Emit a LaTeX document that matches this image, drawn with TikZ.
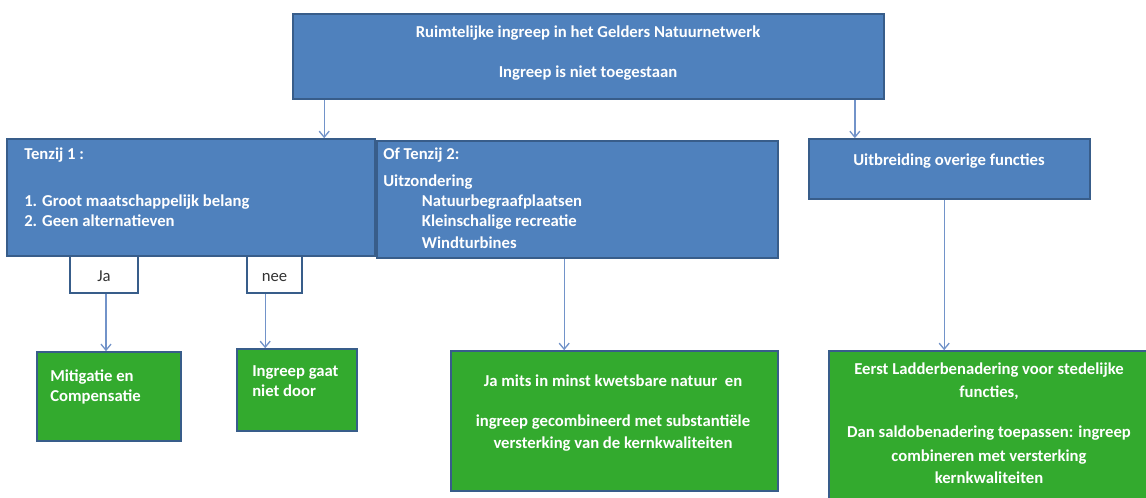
\documentclass[tikz,border=0pt]{standalone}
\usepackage{fontspec}
\setmainfont{Carlito}
\usetikzlibrary{fit}
\usetikzlibrary{arrows.meta}
\definecolor{custom-blue}{RGB}{79, 129, 189}
\definecolor{custom-edge}{RGB}{56, 93, 138}
\definecolor{custom-green}{RGB}{51, 170, 46}
\definecolor{custom-arrow}{RGB}{114, 147, 201}
\tikzset{
  bluebox/.style={fill=custom-blue, draw=custom-edge, line width=1.2pt, inner sep=0pt},
  greenbox/.style={fill=custom-green, draw=custom-edge, line width=1.2pt, inner sep=0pt},
  answerbox/.style={fill=white, draw=custom-edge, line width=1.5pt, inner sep=0pt,
    minimum height=27.75pt, text height=11pt, text depth=0pt,
    text=black!80, font=\fontsize{12.5}{15}\selectfont},
  boxtext/.style={text=white, inner sep=0pt, font=\bfseries\fontsize{12.5}{15}\selectfont},
  flow/.style={draw=custom-arrow, line width=1pt, -{Straight Barb[length=4.5pt, width=7.5pt]}}
}

\begin{document}
\begin{tikzpicture}[x=0.75pt, y=-0.75pt]
\useasboundingbox (0,0) rectangle (1146,498);
% blue boxes
\node[bluebox, fit={(293,14) (884,99)}] (top) {};
\node[boxtext, align=center, anchor=north] (top-txt) at (588,26)
  {Ruimtelijke ingreep in het Gelders Natuurnetwerk\\[15pt]Ingreep is niet toegestaan};
\node[bluebox, fit={(7,139) (375,256)}] (tenzij-1) {};
\node[boxtext, align=left, anchor=north west] (tenzij-1-txt) at (24,148)
  {Tenzij 1 :\\[20pt]1. Groot maatschappelijk belang\\2. Geen alternatieven};
\node[bluebox, fit={(377,141) (778,258)}] (tenzij-2) {};
\node[boxtext, align=left, anchor=north west] (tenzij-2-txt) at (383,148)
  {Of Tenzij 2:\\[5pt]Uitzondering\\\hspace*{29pt}Natuurbegraafplaatsen\\
   \hspace*{29pt}Kleinschalige recreatie\\[1.5pt]\hspace*{29pt}Windturbines};
\node[bluebox, fit={(809,139) (1090,199)}] (uitb) {};
\node[boxtext] (uitb-txt) at (949,161) {Uitbreiding overige functies};
% ja / nee
\node[answerbox, minimum width=51pt] (ja) at (104,274.5) {Ja};
\node[answerbox, minimum width=41.25pt] (nee) at (274.5,274.5) {nee};
% green boxes
\node[greenbox, fit={(37,352) (181,441)}] (mitigatie) {};
\node[boxtext, align=left, anchor=north west] (mitigatie-txt) at (50,370)
  {Mitigatie en\\Compensatie};
\node[greenbox, fit={(237,349) (357,431)}] (niet-door) {};
\node[boxtext, align=left, anchor=north west] (niet-door-txt) at (252,365)
  {Ingreep gaat\\niet door};
\node[greenbox, fit={(451,351) (778,491)}] (ja-mits) {};
\node[boxtext, align=center, anchor=north] (ja-mits-txt) at (613,375)
  {Ja mits in minst kwetsbare natuur\ \ en\\[15pt]ingreep gecombineerd met substanti\"ele\\[1.5pt]versterking van de kernkwaliteiten};
\node[greenbox, fit={(829,351) (1152,504)}] (ladder) {};
\node[boxtext, align=center, anchor=north] (ladder-txt) at (989,363)
  {Eerst Ladderbenadering voor stedelijke\\[2.25pt]functies,\\[15pt]Dan saldobenadering toepassen: ingreep\\[3pt]combineren met versterking\\[1.5pt]kernkwaliteiten};
% connectors
\coordinate (top-out) at ([xshift=24pt]top.south west);
\coordinate (uitb-in) at ([xshift=35pt]uitb.north west);
\coordinate (ja-out) at ([xshift=1.5pt]ja.south);
\coordinate (nee-out) at ([xshift=-7pt]nee.south);
\coordinate (tenzij-2-out) at ([xshift=-10pt]tenzij-2.south);
\coordinate (uitb-out) at ([xshift=-4pt]uitb.south);
\draw[flow] (top-out) -- (top-out |- tenzij-1.north);
\draw[flow] (uitb-in |- top.south) -- (uitb-in);
\draw[flow] (ja-out) -- (ja-out |- mitigatie.north);
\draw[flow] (nee-out) -- (nee-out |- niet-door.north);
\draw[flow] (tenzij-2-out) -- (tenzij-2-out |- ja-mits.north);
\draw[flow] (uitb-out) -- (uitb-out |- ladder.north);
\end{tikzpicture}
\end{document}
